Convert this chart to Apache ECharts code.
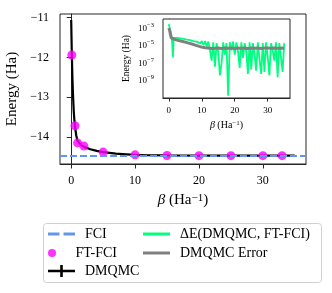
<!DOCTYPE html>
<html><head><meta charset="utf-8">
<script src="https://cdn.jsdelivr.net/npm/echarts@6/dist/echarts.min.js"></script>
<style>html,body{margin:0;padding:0;background:#fff}#c{width:332px;height:293px}</style>
</head><body><div id="c"></div>
<script>
const FONT = 'Liberation Serif';
const INK = '#262626';

// ---- main panel data ----
const fciEnergy = -14.47;
const dmqmcBeta = [0, 0.1, 0.2, 0.3, 0.4, 0.5, 0.6, 0.8, 1, 1.5, 2, 3, 4, 5, 6, 7, 8, 10, 12, 15, 20, 25, 30, 35];
const dmqmcEnergy = [-11.06, -11.92, -12.55, -13.0, -13.35, -13.58, -13.74, -13.97, -14.10, -14.20, -14.25, -14.31, -14.35, -14.38, -14.40, -14.42, -14.43, -14.45, -14.46, -14.465, -14.47, -14.47, -14.47, -14.47];
const ftfciBeta = [0.1, 0.6, 1, 2, 5, 10, 15, 20, 25, 30, 33];
const ftfciEnergy = [-11.94, -13.72, -14.15, -14.23, -14.38, -14.45, -14.465, -14.47, -14.47, -14.47, -14.47];

// ---- inset data ----
const chemAccuracy = 1e-3;
const diffBeta = [0, 0.25, 0.5, 0.75, 1, 1.25, 1.5, 2, 2.5, 3, 3.5, 4, 4.5, 5, 5.5, 6, 6.5, 7, 7.5, 8, 8.5, 9, 9.5, 10,
  10.5, 11, 11.5, 12, 12.5, 13, 13.5, 14, 14.5, 15, 15.5, 16, 16.5, 17, 17.5, 18, 18.5, 19, 19.5, 20,
  20.5, 21, 21.5, 22, 22.5, 23, 23.5, 24, 24.5, 25, 25.5, 26, 26.5, 27, 27.5, 28, 28.5, 29, 29.5, 30,
  30.5, 31, 31.5, 32, 32.5, 33, 33.5, 34, 34.5, 35];
const diffValue = [3e-3, 5e-3, 2e-3, 2e-4, 3e-5, 5e-7, 8e-5, 1.1e-4, 8e-5, 1.05e-4, 7e-5, 1e-4, 6e-5, 9e-5, 5e-5, 7.5e-5,
  4.5e-5, 6e-5, 3.5e-5, 5.5e-5, 3e-5, 4.5e-5, 1.8e-5, 3.5e-5,
  1.2e-5, 3.5e-5, 8e-6, 3e-5, 3e-6, 2e-7, 2.5e-5, 4e-8, 2e-5, 2e-6, 4e-9, 1e-7, 2.5e-5, 1e-6, 2e-5, 2e-11, 2.5e-5, 3e-6, 3e-5, 1e-6,
  2.5e-5, 2e-6, 3e-8, 2.5e-5, 4e-7, 2e-5, 2e-6, 6e-9, 2.5e-5, 2e-8, 2e-5, 1e-6, 1.4e-8, 2.5e-5, 3e-7, 6e-9, 2e-5, 1e-8, 2.5e-5, 5e-7,
  4e-9, 2e-5, 3e-6, 2e-7, 2.5e-5, 2.5e-9, 2e-5, 5e-7, 1e-8, 2e-5];
const errBeta = [0, 0.25, 0.5, 0.75, 1, 2, 3, 4, 5, 6, 7, 8, 9, 10, 11, 12, 13, 14, 15, 16, 17, 18, 19, 20, 21, 22, 23, 24, 25, 26, 27, 28, 29, 30, 31, 32, 33, 34, 35];
const errValue = [1.1e-3, 6e-4, 2e-4, 8e-5, 6.3e-5, 5e-5, 4e-5, 3.3e-5, 2.6e-5, 2e-5, 1.6e-5, 1.2e-5, 9e-6, 7e-6, 6e-6, 5.5e-6, 5e-6, 5.2e-6, 5.5e-6, 5e-6, 5.5e-6, 5.2e-6, 5.5e-6, 5e-6, 5.5e-6, 5.2e-6, 5.6e-6, 5e-6, 5.4e-6, 5.2e-6, 5.6e-6, 5e-6, 5.4e-6, 5.5e-6, 5.1e-6, 5.4e-6, 5.3e-6, 5.5e-6, 5.2e-6];

// ---- ticks ----
const mainXTicks = [0, 10, 20, 30];
const mainYTicks = [-14, -13, -12, -11];
const insetXTicks = [0, 10, 20, 30];
const insetYTicks = [1e-9, 1e-7, 1e-5, 1e-3];

const zip = (a, b) => a.map((v, i) => [v, b[i]]);

const chart = echarts.init(document.getElementById('c'), null, {renderer: 'canvas'});

const legendBase = {
  orient: 'horizontal', selectedMode: false, padding: 0, itemGap: 0,
  itemWidth: 27, itemHeight: 10,
  textStyle: {fontFamily: FONT, fontSize: 14, color: '#000', lineHeight: 16, padding: [0, 0, 0, 5]}
};
const betaName = (fs) => ({
  fontFamily: FONT, fontSize: fs, color: '#000',
  rich: {
    i: {fontFamily: FONT, fontSize: fs, fontStyle: 'italic', color: '#000'},
    t: {fontFamily: FONT, fontSize: fs, color: '#000'},
    s: {fontFamily: FONT, fontSize: Math.round(fs * 0.7), color: '#000', verticalAlign: 'top'}
  }
});

const option = {
  animation: false,
  backgroundColor: '#fff',
  textStyle: {fontFamily: FONT},
  grid: [
    {left: 60, top: 14, width: 246, height: 150, outerBoundsMode: 'none',
     show: true, borderColor: INK, borderWidth: 1, backgroundColor: 'transparent'},
    {left: 163, top: 19, width: 127, height: 79, outerBoundsMode: 'none',
     show: true, borderColor: INK, borderWidth: 1, backgroundColor: '#fff', z: 3}
  ],
  xAxis: [
    {gridIndex: 0, type: 'value', min: -1.75, max: 36.75,
     axisLine: {show: true, lineStyle: {color: INK}}, splitLine: {show: false},
     axisTick: {customValues: mainXTicks, length: 4.5, lineStyle: {color: INK}},
     axisLabel: {customValues: mainXTicks, fontFamily: FONT, fontSize: 12, color: '#000', margin: 11},
     name: '{i|β}{t| (Ha}{s|−1}{t|)}', nameLocation: 'middle', nameGap: 29,
     nameTextStyle: betaName(15)},
    {gridIndex: 1, type: 'value', min: -1.75, max: 36.75,
     axisLine: {show: true, lineStyle: {color: INK}}, splitLine: {show: false},
     axisTick: {customValues: insetXTicks, length: 3.5, lineStyle: {color: INK}},
     axisLabel: {customValues: insetXTicks, fontFamily: FONT, fontSize: 9, color: '#000', margin: 8},
     name: '{i|β}{t| (Ha}{s|−1}{t|)}', nameLocation: 'middle', nameGap: 22,
     nameTextStyle: betaName(10)}
  ],
  yAxis: [
    {gridIndex: 0, type: 'value', min: -14.68, max: -10.91,
     axisLine: {show: true, lineStyle: {color: INK}}, splitLine: {show: false},
     axisTick: {customValues: mainYTicks, length: 4.5, lineStyle: {color: INK}},
     axisLabel: {customValues: mainYTicks, fontFamily: FONT, fontSize: 12, color: '#000', margin: 11,
       formatter: v => String(v).replace('-', '−')},
     name: 'Energy (Ha)', nameLocation: 'middle', nameGap: 37, nameRotate: 90,
     nameTextStyle: {fontFamily: FONT, fontSize: 15, color: '#000'}},
    {gridIndex: 1, type: 'log', min: 1.07e-11, max: 1.15e-2,
     axisLine: {show: true, lineStyle: {color: INK}}, splitLine: {show: false},
     axisTick: {customValues: insetYTicks, length: 3.5, lineStyle: {color: INK}},
     axisLabel: {customValues: insetYTicks, fontFamily: FONT, fontSize: 9, color: '#000', margin: 9,
       formatter: v => '{b|10}{s|' + String(Math.round(Math.log10(v))).replace('-', '−') + '}',
       rich: {
         b: {fontFamily: FONT, fontSize: 9, color: '#000', lineHeight: 13},
         s: {fontFamily: FONT, fontSize: 6.5, color: '#000', verticalAlign: 'top', lineHeight: 13}
       }},
     name: 'Energy (Ha)', nameLocation: 'middle', nameGap: 32, nameRotate: 90,
     nameTextStyle: {fontFamily: FONT, fontSize: 9.5, color: '#000'}}
  ],
  graphic: [
    {type: 'rect', z: 1, shape: {x: 43.5, y: 223.5, width: 278, height: 59, r: 3},
     style: {fill: 'rgba(255,255,255,0.8)', stroke: '#d0d0d0', lineWidth: 1}}
  ],
  legend: [
    Object.assign({}, legendBase, {left: 48, top: 226,
      data: [{name: 'FCI', icon: 'path://M0,0h10v2.4h-10zM13.5,0h10v2.4h-10z'}]}),
    Object.assign({}, legendBase, {left: 48, top: 245, itemHeight: 8, data: [{name: 'FT-FCI', icon: 'circle'}]}),
    Object.assign({}, legendBase, {left: 48, top: 263, itemHeight: 12,
      data: [{name: 'DMQMC', icon: 'path://M0,4.75h27v2.5h-27zM12.2,0h2.6v12h-2.6z'}]}),
    Object.assign({}, legendBase, {left: 143, top: 226,
      data: [{name: 'ΔE(DMQMC, FT-FCI)', icon: 'path://M0,0h27v3h-27z'}]}),
    Object.assign({}, legendBase, {left: 143, top: 245,
      data: [{name: 'DMQMC Error', icon: 'path://M0,0h27v3h-27z'}]})
  ],
  series: [
    {name: 'DMQMC', type: 'line', xAxisIndex: 0, yAxisIndex: 0, data: zip(dmqmcBeta, dmqmcEnergy),
     symbol: 'none', z: 2, color: '#000', itemStyle: {color: '#000'}, lineStyle: {color: '#000', width: 2.2}},
    {name: 'FCI', type: 'line', xAxisIndex: 0, yAxisIndex: 0, data: [], symbol: 'none', z: 3,
     color: '#6495ED', itemStyle: {color: '#6495ED'}, lineStyle: {color: '#6495ED', width: 2, type: [7, 3]},
     markLine: {silent: true, symbol: 'none', label: {show: false},
       lineStyle: {color: '#6495ED', width: 2, type: [7, 3]}, data: [{yAxis: fciEnergy}]}},
    {name: 'FT-FCI', type: 'scatter', xAxisIndex: 0, yAxisIndex: 0, data: zip(ftfciBeta, ftfciEnergy),
     symbol: 'circle', symbolSize: 9, z: 4, itemStyle: {color: '#ff00ff'}},
    {name: 'ΔE(DMQMC, FT-FCI)', type: 'line', xAxisIndex: 1, yAxisIndex: 1, data: zip(diffBeta, diffValue),
     symbol: 'none', z: 5, color: '#00ff7f', itemStyle: {color: '#00ff7f'}, lineStyle: {color: '#00ff7f', width: 1.8}},
    {name: 'DMQMC Error', type: 'line', xAxisIndex: 1, yAxisIndex: 1, data: zip(errBeta, errValue),
     symbol: 'none', z: 6, color: '#808080', itemStyle: {color: '#808080'}, lineStyle: {color: '#808080', width: 3},
     markLine: {silent: true, symbol: 'none', label: {show: false},
       lineStyle: {color: '#000', width: 2, type: [7, 4]}, data: [{yAxis: chemAccuracy}]}}
  ]
};
chart.setOption(option);
</script>
</body></html>
